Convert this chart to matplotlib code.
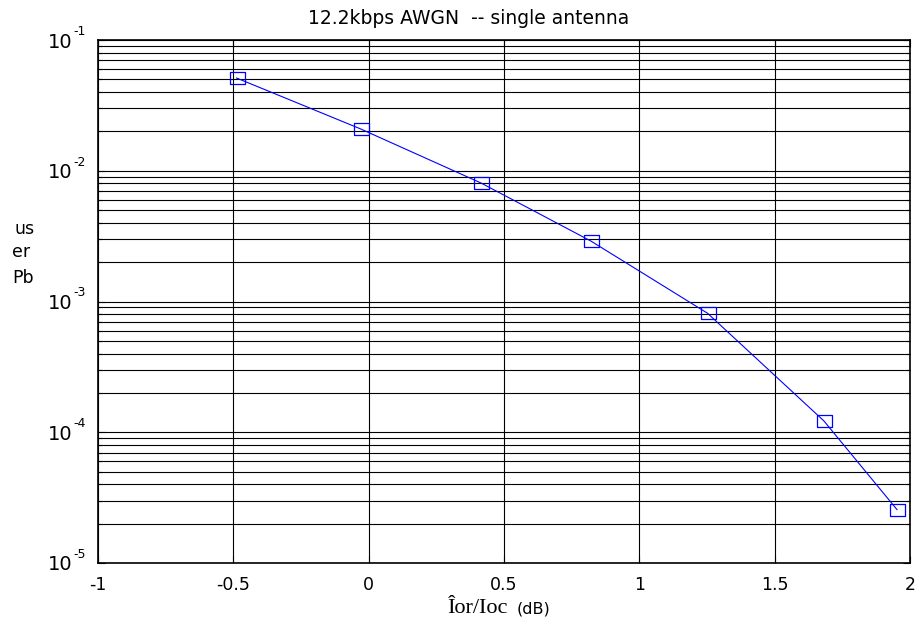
import matplotlib
matplotlib.use('Agg')
import matplotlib.pyplot as plt
import matplotlib.transforms as mtransforms
from matplotlib.ticker import FixedLocator, NullLocator, FuncFormatter, LogLocator
import numpy as np

# 12.2 kbps AWGN, single antenna: Pb versus Ior/Ioc

ior_ioc_db = [-0.488, -0.030, 0.415, 0.821, 1.252, 1.682, 1.952]
pb = [0.0512, 0.0209, 0.00806, 0.00290, 0.000813, 0.000122, 0.0000256]

x_ticks = [-1, -0.5, 0, 0.5, 1, 1.5, 2]
x_tick_labels = ['-1', '-0.5', '0', '0.5', '1', '1.5', '2']
y_decades = [-5, -4, -3, -2, -1]

W, H = 918, 628
fig = plt.figure(figsize=(W / 100, H / 100), dpi=100)
ax = fig.add_axes([98 / W, 65 / H, 812 / W, 523 / H])

rect = [(-1, -0.8), (1, -0.8), (1, 0.8), (-1, 0.8), (-1, -0.8)]
ax.plot(ior_ioc_db, pb, color=(0, 0, 1), linewidth=0.8,
        marker=rect, markersize=10.8, markerfacecolor='none',
        markeredgecolor=(0, 0, 1), markeredgewidth=0.9, zorder=3)

ax.set_yscale('log')
ax.set_xlim(-1, 2)
ax.set_ylim(1e-5, 1e-1)

ax.xaxis.set_major_locator(FixedLocator(x_ticks))
ax.xaxis.set_minor_locator(NullLocator())
ax.set_xticklabels(x_tick_labels)
ax.yaxis.set_major_locator(FixedLocator([10.0 ** d for d in y_decades]))
ax.yaxis.set_minor_locator(LogLocator(base=10, subs=np.arange(2, 10)))
ax.yaxis.set_major_formatter(FuncFormatter(lambda v, p: '10'))
ax.yaxis.set_minor_formatter(FuncFormatter(lambda v, p: ''))

ax.grid(True, which='major', axis='x', color='black', linewidth=0.8)
ax.grid(True, which='both', axis='y', color='black', linewidth=0.8)
ax.set_axisbelow(True)

ax.tick_params(which='both', direction='in', top=True, right=True,
               color='black', width=0.8)
ax.tick_params(which='major', length=5)
ax.tick_params(which='minor', length=3)
ax.tick_params(axis='x', labelsize=12.5, pad=9.5)
ax.tick_params(axis='y', labelsize=14, pad=18.5)
for s in ax.spines.values():
    s.set_linewidth(1.2)

# exponents beside the "10" tick labels
exp_tr = mtransforms.offset_copy(ax.get_yaxis_transform(), fig=fig,
                                 x=-12, y=8.5, units='dots')
for d in y_decades:
    ax.text(0, 10.0 ** d, str(d), transform=exp_tr, ha='right', va='center',
            fontsize=9, clip_on=False)

fig.text(469 / W, 1 - 24 / H, '12.2kbps AWGN  -- single antenna',
         ha='center', va='baseline', fontsize=13.5)

for label, x0, base in [('us', 15, 234), ('er', 12, 257), ('Pb', 12, 283)]:
    fig.text(x0 / W, 1 - base / H, label, ha='left', va='baseline',
             fontsize=12.5)

fig.text(448 / W, 1 - 613 / H, 'Îor/Ioc', ha='left', va='baseline',
         fontsize=16, family='Liberation Serif')
fig.text(517 / W, 1 - 613 / H, '(dB)', ha='left', va='baseline',
         fontsize=11.5)

fig.savefig('out.png', dpi=100)
